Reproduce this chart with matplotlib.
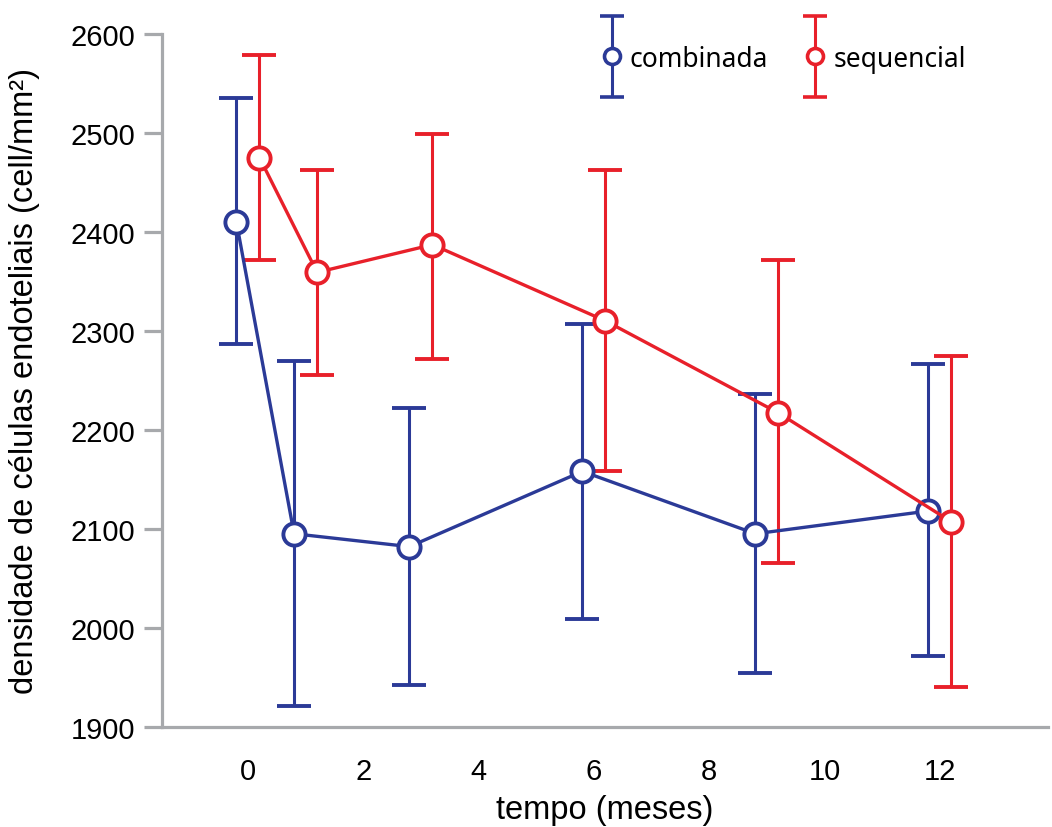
import numpy as np
import matplotlib.pyplot as plt
from matplotlib.container import ErrorbarContainer
from matplotlib.legend_handler import HandlerErrorbar

# months of follow-up
months = [0, 1, 3, 6, 9, 12]

comb_mean = [2410, 2095, 2082, 2158, 2095, 2118]
comb_top = [2535, 2269, 2222, 2307, 2236, 2266]
comb_bot = [2287, 1921, 1942, 2009, 1954, 1972]

seq_mean = [2475, 2359, 2387, 2310, 2217, 2107]
seq_top = [2579, 2462, 2499, 2462, 2372, 2275]
seq_bot = [2372, 2255, 2272, 2158, 2065, 1940]

blue = "#2B3A97"
red = "#E8202A"
grey = "#A7A9AC"

plt.rcParams['font.family'] = ['Liberation Sans', 'DejaVu Sans']

fig = plt.figure(figsize=(10.52, 8.28), dpi=100)
ax = fig.add_axes([0.154, 0.121, 0.842, 0.837])

shift = 0.2
x = np.array(months, dtype=float)

def draw(xs, mean, top, bot, col):
    mean = np.array(mean)
    err = [mean - np.array(bot), np.array(top) - mean]
    ax.errorbar(xs, mean, yerr=err, color=col, ecolor=col, lw=2.4,
                elinewidth=2.2, capsize=12.5, capthick=2.2,
                marker='o', ms=16, mfc='white', mec=col, mew=2.8, zorder=3)

draw(x - shift, comb_mean, comb_top, comb_bot, blue)
draw(x + shift, seq_mean, seq_top, seq_bot, red)

# legend proxies (smaller caps and markers than the data)
def proxy(col):
    return ax.errorbar([np.nan], [np.nan], yerr=[[np.nan], [np.nan]], fmt='o',
                       color=col, ecolor=col, elinewidth=2.2, capsize=8.6,
                       capthick=2.2, ms=11.5, mfc='white', mec=col, mew=2.6)

h1 = proxy(blue)
h2 = proxy(red)
leg = ax.legend([h1, h2], ["combinada", "sequencial"], ncol=2, frameon=False,
                loc='center', bbox_to_anchor=(0.703, 0.964),
                handlelength=0.6, handletextpad=0.38, columnspacing=1.5,
                prop={'family': 'Noto Sans', 'size': 19},
                handler_map={ErrorbarContainer: HandlerErrorbar(xerr_size=0.5, yerr_size=1.55)})

ax.set_xlim(-1.49, 13.87)
ax.set_ylim(1900, 2600)
ax.set_xticks([0, 2, 4, 6, 8, 10, 12])
ax.set_yticks(np.arange(1900, 2601, 100))

for s in ['top', 'right']:
    ax.spines[s].set_visible(False)
for s in ['left', 'bottom']:
    ax.spines[s].set_color(grey)
    ax.spines[s].set_linewidth(2.3)

ax.tick_params(axis='y', direction='out', length=13, width=2.3, color=grey,
               labelsize=21, pad=6)
ax.tick_params(axis='x', length=0, labelsize=21, pad=22)

ax.set_xlabel("tempo (meses)", fontsize=23.5, labelpad=6)
ax.set_ylabel("densidade de células endoteliais (cell/mm²)", fontsize=23.5, labelpad=22)

fig.savefig("out.png", dpi=100)
